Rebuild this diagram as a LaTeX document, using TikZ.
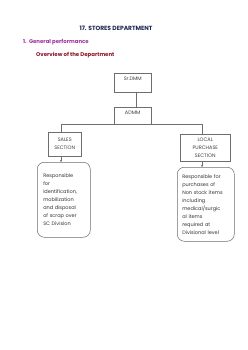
\documentclass[tikz,border=0pt]{standalone}
\usepackage{fontspec}
\setmainfont{Poppins}
\usetikzlibrary{arrows.meta}
\definecolor{navy}{RGB}{30,40,80}
\definecolor{purp}{RGB}{160,50,160}
\definecolor{maroon}{RGB}{140,20,40}
\definecolor{boxline}{RGB}{110,110,110}
\begin{document}
\begin{tikzpicture}[x=1pt,y=-1pt,
  every node/.style={inner sep=0pt},
  org/.style={draw=boxline,line width=0.5pt,font=\fontsize{5}{8}\selectfont\color{black!75},align=center},
  detail/.style={draw=boxline,line width=0.5pt,rounded corners=7pt,font=\fontsize{5}{8}\selectfont\color{black!80},align=left,anchor=north west},
  link/.style={draw=boxline,line width=0.5pt},
  arr/.style={link,-{Stealth[length=2pt,width=2pt]}}]
\fill[white] (0,0) rectangle (247,350);
\useasboundingbox (0,0) rectangle (247,350);
\node[font=\fontsize{6}{7}\selectfont\bfseries\color{navy}] (title) at (116,28) {17. STORES DEPARTMENT};
\node[font=\fontsize{5.4}{7}\selectfont\bfseries\color{purp},anchor=west] (gp) at (23,42) {1.\ \ General performance};
\node[font=\fontsize{5.4}{7}\selectfont\bfseries\color{maroon},anchor=west] (ov) at (36,55) {Overview of the Department};
\node[org,minimum width=37pt,text height=7pt,text depth=12pt,anchor=north west] (sr) at (114,73) {Sr.DMM};
\node[org,minimum width=37pt,text height=7pt,text depth=10pt,anchor=north west] (admm) at (114,107) {ADMM};
\node[org,minimum width=33pt,minimum height=24pt,anchor=north west] (sales) at (48,132) {SALES\\SECTION};
\node[org,minimum width=50pt,minimum height=27pt,anchor=north west] (lp) at (180,134) {LOCAL\\PURCHASE\\SECTION};
\node[detail,minimum width=53pt,minimum height=75pt,inner xsep=6pt,text width=41pt] (sd) at (37,162) {Responsible\\for\\identification,\\mobilization\\and disposal\\of scrap over\\SC Division\\[3pt]};
\node[detail,minimum width=57pt,minimum height=74pt,inner xsep=5pt,text width=47pt] (ld) at (177,167) {Responsible for\\purchases of\\Non stock items\\including\\medical/surgic\\al items\\required at\\Divisional level};
\coordinate (hl) at (61,124);
\coordinate (hr) at (202,124);
\draw[link] (sr.south -| 136,0) -- (admm.north -| 136,0);
\draw[link] (hl) -- (hr);
\draw[link] (hl) -- (hl |- sales.north);
\draw[link] (hr) -- (hr |- lp.north);
\draw[arr] (sales.south -| hl) -- (sd.north -| hl);
\draw[arr] (lp.south -| hr) -- (ld.north -| hr);
\end{tikzpicture}
\end{document}
